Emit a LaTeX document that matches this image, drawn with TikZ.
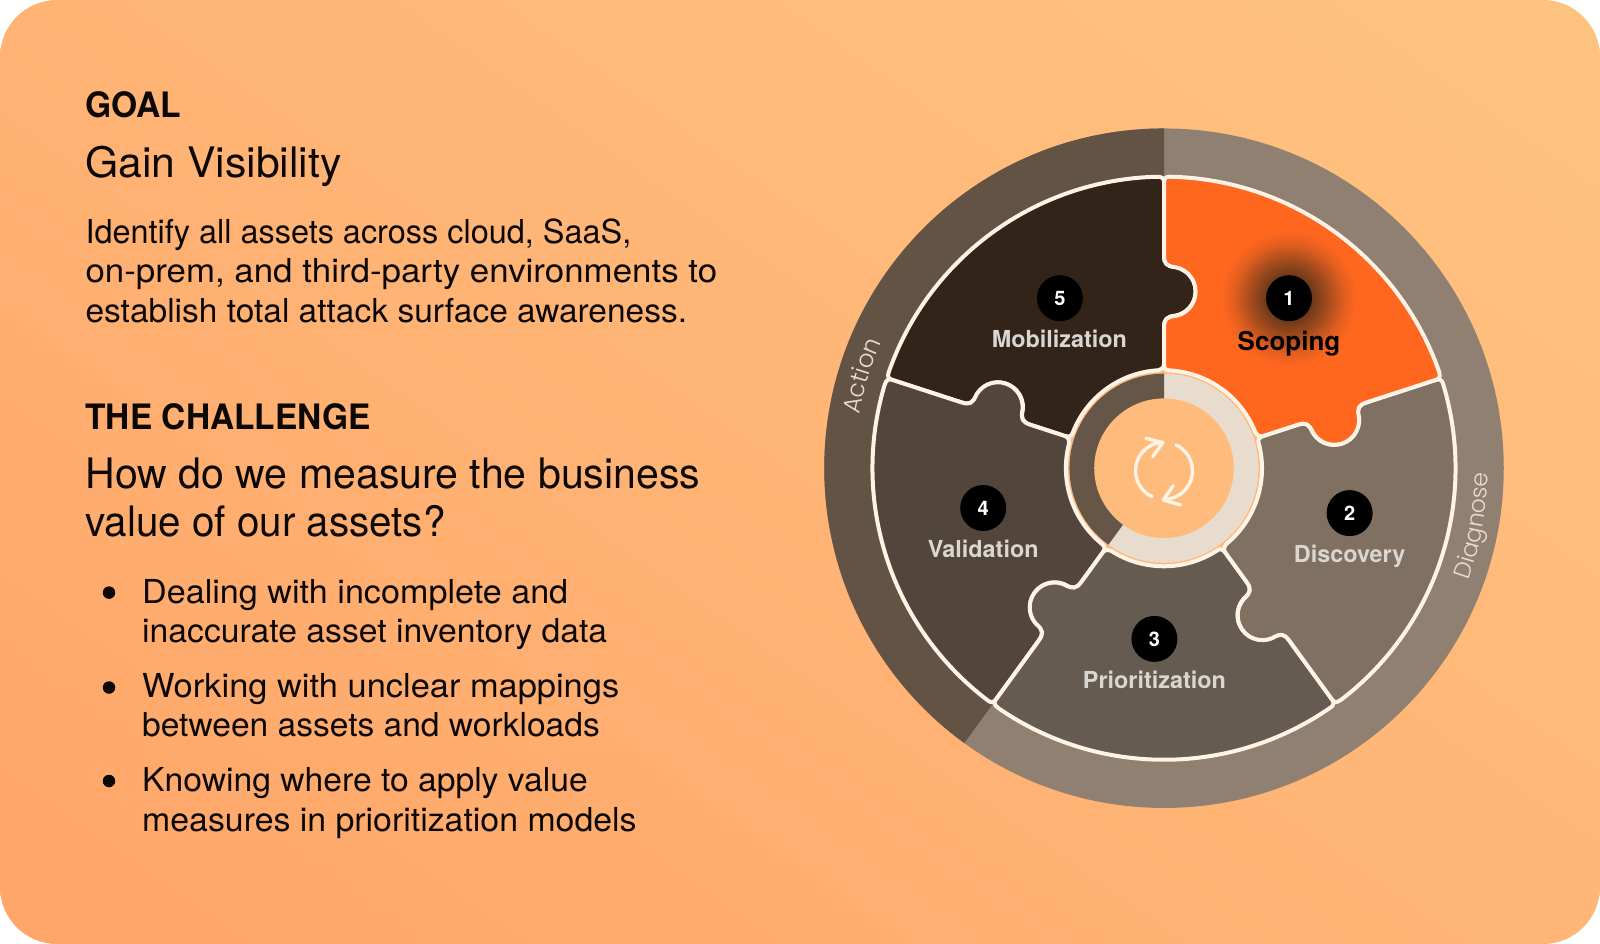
\documentclass[tikz,border=0pt]{standalone}
\usepackage{graphicx}
\usepackage{fontspec}
\setmainfont{TeX Gyre Heros}
\newfontfamily\flight[UprightFont={* Light}]{Poppins}
\newcommand{\fitline}[2]{\resizebox{#1pt}{\height}{#2}}
\usetikzlibrary{decorations.text}
\definecolor{cardA}{HTML}{FFA66A}
\definecolor{cardB}{HTML}{FFC380}
\definecolor{ink}{HTML}{0B0806}
\definecolor{ringL}{HTML}{8F8071}
\definecolor{ringD}{HTML}{625344}
\definecolor{edgeC}{HTML}{FFF3E6}
\definecolor{pOne}{HTML}{FF671F}
\definecolor{pTwo}{HTML}{7F7062}
\definecolor{pThree}{HTML}{665B51}
\definecolor{pFour}{HTML}{52453B}
\definecolor{pFive}{HTML}{33241A}
\definecolor{hubBg}{HTML}{FFB877}
\definecolor{hubL}{HTML}{E8DCCF}
\definecolor{hubD}{HTML}{665647}
\definecolor{hubC}{HTML}{FFBB7C}
\definecolor{labelC}{HTML}{DAD6D2}
\definecolor{glowA}{HTML}{6E3A1A}
\definecolor{glowB}{HTML}{A94D1D}
\definecolor{glowD}{HTML}{E25E1F}
\pgfdeclareradialshading{badgeglow}{\pgfpointorigin}{color(0bp)=(glowA); color(8.2bp)=(glowA); color(14.3bp)=(glowB); color(19.6bp)=(glowD); color(24.3bp)=(pOne); color(100bp)=(pOne)}
\newcommand{\wheelpiece}[2]{%
  \draw[edgeC,line width=4pt,line join=round,fill=#1,rotate=#2]
    (0,622) .. controls (0,631) and (4,635) .. (12,634.9)
    arc[start angle=88.92,end angle=19.5,radius=635]
    .. controls (603,198) and (600,195) .. (591.6,192.2)
    -- (442.2,143.7)
    .. controls (423.2,137.5) and (419.9,131.2) .. (424.9,109.7)
    arc[start angle=5,end angle=-149,radius=54]
    .. controls (315.4,97.2) and (309.1,100.4) .. (290,94.2)
    -- (218,70.8)
    .. controls (208,67.6) and (205,70) .. (199,78)
    arc[start angle=21.4,end angle=87,radius=213]
    .. controls (4,213) and (0,217) .. (0,228)
    -- (0,305)
    .. controls (0,325) and (5,330) .. (27,332)
    arc[start angle=-77,end angle=77,radius=54]
    .. controls (5,440) and (0,445) .. (0,465)
    -- cycle;}
\tikzset{
  headtext/.style={anchor=base west,inner sep=0pt,text=ink,font=\bfseries\fontsize{35}{35}\selectfont},
  subtext/.style={anchor=base west,inner sep=0pt,text=ink,font=\fontsize{42}{42}\selectfont},
  bodytext/.style={anchor=base west,inner sep=0pt,text=ink,font=\fontsize{33}{33}\selectfont},
  dotmark/.style={circle,fill=ink,inner sep=0pt,minimum size=12.5pt},
  badge/.style={circle,fill=black,inner sep=0pt,minimum size=46pt,text=white,font=\bfseries\fontsize{20}{20}\selectfont},
  steplabel/.style={inner sep=0pt,text=labelC,font=\bfseries\fontsize{23.4}{23.4}\selectfont},
  iconline/.style={edgeC,line width=3.4pt,line cap=round,line join=round}
}
\begin{document}
\begin{tikzpicture}[x=1pt,y=1pt]
\useasboundingbox (0,-944) rectangle (1600,0);
\begin{scope}
  \clip[rounded corners=57pt] (0,-944) rectangle (1600,0);
  \shade[bottom color=cardA,top color=cardB,shading angle=-35] (-200,-1100) rectangle (1800,150);
\end{scope}
% text
\node[headtext] (goalh) at (85.3,-117.6) {\fitline{96}{GOAL}};
\node[subtext] (goals) at (85.3,-177.6) {\fitline{256}{Gain Visibility}};
\node[bodytext] (b1) at (85.3,-243.8) {\fitline{545.8}{Identify all assets across cloud, SaaS,}};
\node[bodytext] (b2) at (85.3,-282.6) {\fitline{631.6}{on-prem, and third-party environments to}};
\node[bodytext] (b3) at (85.3,-322.4) {\fitline{601.6}{establish total attack surface awareness.}};
\node[headtext] (chalh) at (85.3,-429) {\fitline{285}{THE CHALLENGE}};
\node[subtext] (q1) at (85.3,-488.7) {\fitline{614.7}{How do we measure the business}};
\node[subtext] (q2) at (85.3,-536.9) {\fitline{360}{value of our assets?}};
\node[dotmark] (d1) at (109,-592.6) {};
\node[bodytext] (l1) at (142,-603.2) {\fitline{426}{Dealing with incomplete and}};
\node[bodytext] (l2) at (142,-642.3) {\fitline{465}{inaccurate asset inventory data}};
\node[dotmark] (d2) at (109,-687.5) {};
\node[bodytext] (l3) at (142,-697.1) {\fitline{477}{Working with unclear mappings}};
\node[bodytext] (l4) at (142,-736.8) {\fitline{457.6}{between assets and workloads}};
\node[dotmark] (d3) at (109,-781) {};
\node[bodytext] (l5) at (142,-791.3) {\fitline{445.5}{Knowing where to apply value}};
\node[bodytext] (l6) at (142,-831.3) {\fitline{494.4}{measures in prioritization models}};
% wheel
\begin{scope}[shift={(1164,-468.2)},scale=0.4591]
  \fill[ringL] (0,0) circle[radius=740];
  \fill[ringD] (0,0) -- (90:740) arc[start angle=90,end angle=234,radius=740] -- cycle;
  \fill[hubBg] (0,0) circle[radius=228];
  \wheelpiece{pFive}{72}
  \wheelpiece{pFour}{144}
  \wheelpiece{pThree}{216}
  \wheelpiece{pTwo}{288}
  \wheelpiece{pOne}{0}
  \fill[hubL] (0,0) circle[radius=206];
  \fill[hubD] (0,0) -- (90:206) arc[start angle=90,end angle=234,radius=206] -- cycle;
  \fill[hubC] (0,0) circle[radius=152];
  \path[decorate,decoration={text along path,text align=center,text color=hubL,
     text={|\flight\fontsize{24.5}{24.5}\selectfont|Action}}]
     (176:674) arc[start angle=176,end angle=150,radius=674];
  \path[decorate,decoration={text along path,text align=center,text color=hubL,
     text={|\flight\fontsize{23.5}{23.5}\selectfont|Diagnose}}]
     (-26:706) arc[start angle=-26,end angle=5,radius=706];
\end{scope}
\begin{scope}[shift={(1164,-469.3)}]
  \draw[iconline] (0,-1.5)+(245:28.5) arc[start angle=245,end angle=92,radius=28.5];
  \draw[iconline] (-18,31) -- (-1.3,26.7) -- (-11.3,12.7);
  \draw[iconline] (0,-1.5)+(65:28.5) arc[start angle=65,end angle=-88,radius=28.5];
  \draw[iconline] (16.7,-35.7) -- (-0.7,-30.7) -- (9.3,-16.3);
\end{scope}
\shade[shading=badgeglow] (1289,-298.2) circle[radius=70];
\node[badge] (n1) at (1289,-298.2) {1};
\node[badge] (n2) at (1349.6,-513.1) {2};
\node[badge] (n3) at (1154.4,-638.9) {3};
\node[badge] (n4) at (983.2,-508) {4};
\node[badge] (n5) at (1059.9,-298.2) {5};
\node[steplabel,text=black,font=\bfseries\fontsize{26}{26}\selectfont] (t1) at (1289,-343.5) {Scoping};
\node[steplabel] (t2) at (1349.6,-556) {Discovery};
\node[steplabel] (t3) at (1154.4,-679.8) {Prioritization};
\node[steplabel] (t4) at (983.2,-548.5) {Validation};
\node[steplabel] (t5) at (1059.4,-338.6) {Mobilization};
\end{tikzpicture}
\end{document}
